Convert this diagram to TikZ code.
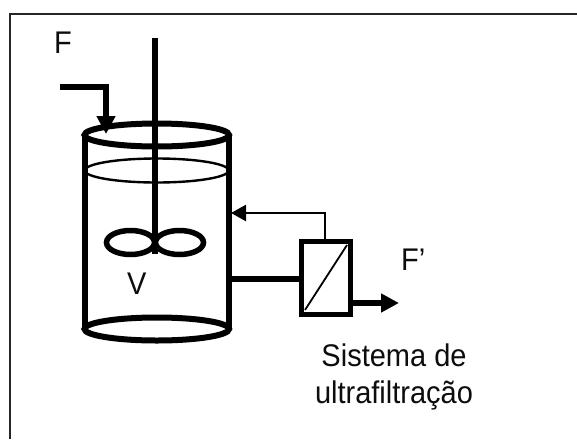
\documentclass[tikz,border=0pt]{standalone}
\usepackage{fontspec}
\setmainfont{Liberation Sans}
\usetikzlibrary{arrows.meta}
\newcommand{\tallertext}[1]{\scalebox{1}[1.08]{#1}}
\tikzset{
  thickpipe/.style={line width=6pt},
  wall/.style={line width=6pt},
  thinpipe/.style={line width=2.4pt},
  lbl/.style={inner sep=0pt,font=\fontsize{29}{37}\selectfont,text=black!95},
  bigtip/.style={-{Triangle[length=18pt,width=18pt]}},
  smalltip/.style={-{Triangle[length=15pt,width=16pt]}}
}
\begin{document}
\begin{tikzpicture}[x=1pt,y=-1pt]
\useasboundingbox (0,0) rectangle (577,439);
\fill[white] (0,0) rectangle (577,439);
\draw[line width=2pt,black!85] (9.5,439) -- (9.5,13.5) -- (577,13.5);
% tank
\draw[wall] (84.5,135) -- (84.5,329);
\draw[wall] (229,135) -- (229,329);
\draw[line width=6pt] (156.75,135) ellipse (72.25 and 11.5);
\draw[line width=2.4pt] (156.75,170.5) ellipse (72 and 12);
\draw[line width=6pt] (156.75,329) ellipse (72.25 and 11.5);
% shaft and impeller
\coordinate (shafttop) at (155,38);
\coordinate (hub) at (155,254);
\draw[line width=6pt] (shafttop) -- (hub);
\draw[line width=5.5pt] (130.5,242.5) ellipse (24 and 12);
\draw[line width=5.5pt] (179.5,242.5) ellipse (24 and 12);
% membrane unit
\node[draw,line width=5.5pt,minimum width=49pt,minimum height=73pt,inner sep=0pt,outer sep=0pt] (mem) at (326,278) {};
\coordinate (memin) at (305,310);
\coordinate (memout) at (347,245);
\draw[line width=1.8pt] (memin) -- (memout);
% feed
\coordinate (feedstart) at (60,86.5);
\coordinate (feedbend) at (106,86.5);
\coordinate (feedend) at (106,134);
\draw[thickpipe,bigtip,line join=miter] (feedstart) -- (feedbend) -- (feedend);
% connectors
\coordinate (tankout) at (231,279);
\coordinate (tankin) at (231,213);
\coordinate (memtop) at (325,239);
\coordinate (bend) at (325,213);
\coordinate (memexit) at (351,303);
\coordinate (exitend) at (399,303);
\draw[thickpipe] (tankout) -- (tankout -| mem.west);
\draw[thinpipe,smalltip] (memtop) -- (bend) -- (tankin);
\draw[thickpipe,bigtip] (memexit) -- (exitend);
% labels
\node[lbl,anchor=base west] (lf) at (54,53) {\tallertext{F}};
\node[lbl,anchor=base west] (lv) at (127,294) {\tallertext{V}};
\node[lbl,anchor=base west] (lfp) at (401,270) {\tallertext{F’}};
\node[lbl,anchor=base] (ls) at (394,366) {\tallertext{Sistema de}};
\node[lbl,anchor=base] (lu) at (394,403) {\tallertext{ultrafiltração}};
\end{tikzpicture}
\end{document}
